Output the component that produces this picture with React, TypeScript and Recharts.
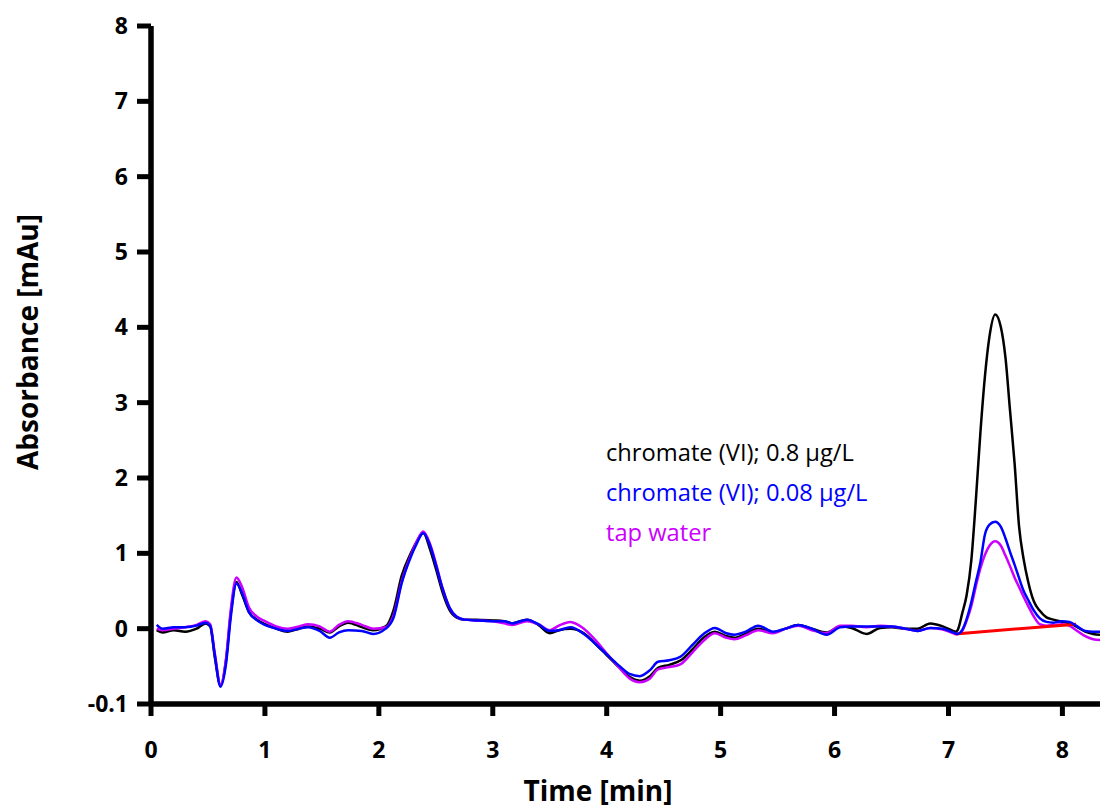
import { Legend, Line, LineChart, XAxis, YAxis } from "recharts";

// retention time [min]
const times = [
	0.05, 0.1, 0.2, 0.3, 0.4, 0.48, 0.52, 0.56, 0.61, 0.66, 0.7, 0.75, 0.8, 0.86,
	0.93, 1.0, 1.1, 1.2, 1.3, 1.38, 1.48, 1.57, 1.65, 1.73, 1.85, 1.95, 2.06,
	2.13, 2.2, 2.28, 2.33, 2.39, 2.45, 2.5, 2.56, 2.62, 2.68, 2.75, 2.85, 3.0,
	3.1, 3.17, 3.3, 3.4, 3.5, 3.58, 3.68, 3.8, 3.9, 4.0, 4.1, 4.2, 4.29, 4.38,
	4.45, 4.55, 4.65, 4.75, 4.85, 4.95, 5.05, 5.12, 5.22, 5.33, 5.46, 5.57, 5.68,
	5.8, 5.93, 6.05, 6.15, 6.28, 6.4, 6.5, 6.62, 6.73, 6.84, 6.95, 7.04, 7.06,
	7.08, 7.12, 7.16, 7.2, 7.24, 7.28, 7.32, 7.36, 7.41, 7.46, 7.5, 7.54, 7.58,
	7.62, 7.66, 7.7, 7.75, 7.8, 7.86, 7.92, 8.0, 8.06, 8.12, 8.2, 8.27, 8.33,
];

// chromate (VI); 0.8 µg/L
const high = [
	-0.02, -0.05, -0.02, -0.04, 0.0, 0.07, 0.03, -0.38, -0.75, -0.4, 0.2, 0.62,
	0.45, 0.22, 0.12, 0.06, 0.0, -0.04, 0.0, 0.03, 0.0, -0.05, 0.03, 0.08, 0.02,
	-0.02, 0.03, 0.25, 0.7, 1.0, 1.15, 1.27, 1.05, 0.8, 0.48, 0.25, 0.15, 0.12,
	0.12, 0.11, 0.1, 0.07, 0.12, 0.05, -0.06, -0.02, 0.0, -0.06, -0.2, -0.35,
	-0.5, -0.64, -0.69, -0.63, -0.52, -0.48, -0.42, -0.28, -0.12, -0.04, -0.1,
	-0.12, -0.07, 0.0, -0.05, 0.0, 0.05, 0.0, -0.05, 0.03, 0.01, -0.07, 0.01,
	0.02, 0.0, 0.0, 0.07, 0.03, -0.03, -0.04, -0.02, 0.2, 0.45, 0.9, 1.7, 2.6,
	3.35, 3.88, 4.17, 4.0, 3.6, 2.9, 2.2, 1.35, 0.92, 0.62, 0.36, 0.24, 0.15,
	0.12, 0.09, 0.07, 0.03, -0.04, -0.07, -0.08,
];

// chromate (VI); 0.08 µg/L
const low = [
	0.05, 0.0, 0.02, 0.02, 0.04, 0.08, 0.04, -0.35, -0.77, -0.45, 0.15, 0.6,
	0.47, 0.22, 0.11, 0.05, 0.0, -0.03, 0.0, 0.02, -0.03, -0.12, -0.05, -0.02,
	-0.03, -0.07, 0.0, 0.15, 0.6, 0.95, 1.12, 1.27, 1.1, 0.85, 0.53, 0.28, 0.16,
	0.12, 0.11, 0.1, 0.1, 0.07, 0.12, 0.06, -0.03, -0.02, 0.02, -0.07, -0.2,
	-0.34, -0.48, -0.6, -0.63, -0.55, -0.44, -0.42, -0.37, -0.22, -0.07, 0.01,
	-0.06, -0.08, -0.04, 0.04, -0.04, 0.0, 0.05, 0.0, -0.08, 0.02, 0.03, 0.03,
	0.03, 0.03, 0.0, -0.03, 0.01, 0.0, -0.05, -0.06, -0.07, -0.02, 0.13, 0.35,
	0.62, 0.88, 1.25, 1.38, 1.42, 1.35, 1.2, 1.02, 0.85, 0.67, 0.5, 0.38, 0.24,
	0.14, 0.09, 0.08, 0.1, 0.09, 0.04, -0.03, -0.04, -0.04,
];

// tap water
const tap = [
	0.0, -0.02, 0.0, 0.02, 0.05, 0.1, 0.06, -0.33, -0.74, -0.38, 0.25, 0.68,
	0.55, 0.28, 0.16, 0.1, 0.03, 0.0, 0.03, 0.06, 0.03, -0.04, 0.05, 0.1, 0.05,
	0.0, 0.02, 0.18, 0.62, 0.97, 1.15, 1.29, 1.12, 0.87, 0.53, 0.28, 0.16, 0.12,
	0.11, 0.1, 0.07, 0.05, 0.1, 0.06, -0.02, 0.04, 0.09, 0.0, -0.15, -0.33,
	-0.5, -0.66, -0.71, -0.66, -0.54, -0.51, -0.47, -0.32, -0.16, -0.06, -0.12,
	-0.14, -0.09, -0.02, -0.06, 0.0, 0.04, -0.02, -0.06, 0.04, 0.04, 0.02, 0.04,
	0.03, 0.0, -0.03, 0.01, -0.01, -0.06, -0.07, -0.07, -0.03, 0.11, 0.3, 0.56,
	0.8, 0.98, 1.1, 1.16, 1.1, 0.97, 0.83, 0.68, 0.55, 0.42, 0.3, 0.16, 0.06,
	0.04, 0.05, 0.06, 0.04, -0.02, -0.1, -0.14, -0.15,
];

// integration baseline under the chromate peak
const baselineTimes = [7.06, 8.12];
const baselineValues = [-0.07, 0.06];

const xTicks = [0, 1, 2, 3, 4, 5, 6, 7, 8];
const yTicks = [-1, 0, 1, 2, 3, 4, 5, 6, 7, 8];

const seriesNames = [
	"chromate (VI); 0.8 µg/L",
	"chromate (VI); 0.08 µg/L",
	"tap water",
];
const seriesColors = ["#000000", "#0000ff", "#cc00ff"];

const FONT = "'Open Sans', 'Noto Sans', sans-serif";

const data = times.map((t, i) => {
	const b = baselineTimes.indexOf(t);
	return {
		t,
		high: high[i],
		low: low[i],
		tap: tap[i],
		base: b >= 0 ? baselineValues[b] : null,
	};
});

function YTitle() {
	return (
		<text
			x={38}
			y={342}
			transform="rotate(-90 38 342)"
			textAnchor="middle"
			fontFamily={FONT}
			fontWeight="bold"
			fontSize={28}
			fill="#000"
		>
			Absorbance [mAu]
		</text>
	);
}

function XTitle() {
	return (
		<text
			x={598}
			y={801}
			textAnchor="middle"
			fontFamily={FONT}
			fontWeight="bold"
			fontSize={28}
			fill="#000"
		>
			Time [min]
		</text>
	);
}

function LegendText() {
	return (
		<div style={{ fontFamily: FONT, fontSize: 23.7, lineHeight: "40px" }}>
			{seriesNames.map((name, i) => (
				<div key={name} style={{ color: seriesColors[i], whiteSpace: "nowrap" }}>
					{name}
				</div>
			))}
		</div>
	);
}

const tickStyle = {
	fill: "#000",
	fontSize: 23,
	fontWeight: "bold",
	fontFamily: FONT,
};

export default function App() {
	return (
		<div style={{ position: "absolute", left: 0, top: 0, background: "#fff" }}>
			<LineChart
				width={1100}
				height={808}
				data={data}
				margin={{ top: 26, right: 0, left: 0, bottom: 0 }}
			>
				<XAxis
					dataKey="t"
					type="number"
					domain={[0, 8.33]}
					ticks={xTicks}
					allowDataOverflow
					height={104}
					axisLine={{ stroke: "#000", strokeWidth: 5.5 }}
					tickLine={{ stroke: "#000", strokeWidth: 5 }}
					tickSize={12}
					tickMargin={26}
					tick={tickStyle}
					label={<XTitle />}
				/>
				<YAxis
					type="number"
					domain={[-1, 8]}
					ticks={yTicks}
					allowDataOverflow
					width={151}
					interval={0}
					axisLine={{ stroke: "#000", strokeWidth: 5.5 }}
					tickLine={{ stroke: "#000", strokeWidth: 5 }}
					tickSize={14}
					tickMargin={9}
					tick={tickStyle}
					tickFormatter={(v: number) => (v === -1 ? "-0.1" : String(v))}
					label={<YTitle />}
				/>
				<Legend
					layout="vertical"
					align="center"
					verticalAlign="middle"
					content={<LegendText />}
					wrapperStyle={{ left: 606, top: 432, width: "auto", height: "auto" }}
				/>
				<Line
					dataKey="high"
					type="monotone"
					stroke={seriesColors[0]}
					strokeWidth={2.5}
					dot={false}
					isAnimationActive={false}
				/>
				<Line
					dataKey="tap"
					type="monotone"
					stroke={seriesColors[2]}
					strokeWidth={2.5}
					dot={false}
					isAnimationActive={false}
				/>
				<Line
					dataKey="base"
					type="linear"
					stroke="#ff0000"
					strokeWidth={3}
					dot={false}
					connectNulls
					legendType="none"
					isAnimationActive={false}
				/>
				<Line
					dataKey="low"
					type="monotone"
					stroke={seriesColors[1]}
					strokeWidth={2.5}
					dot={false}
					isAnimationActive={false}
				/>
			</LineChart>
		</div>
	);
}
